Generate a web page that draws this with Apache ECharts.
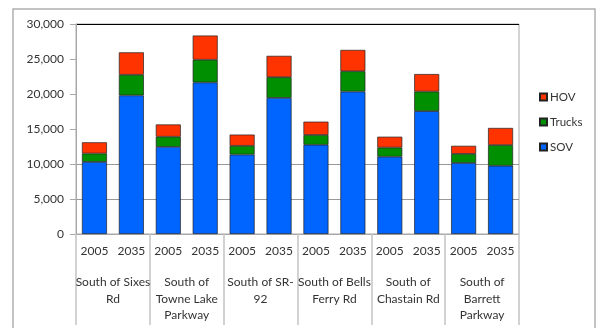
<!DOCTYPE html>
<html>
<head>
<meta charset="utf-8">
<script src="https://cdn.jsdelivr.net/npm/echarts@6/dist/echarts.min.js"></script>
<style>
  html, body { margin: 0; padding: 0; background: #fff; }
  #trafficChart { width: 597px; height: 328px; }
</style>
</head>
<body>
<div id="trafficChart"></div>
<script>
var years = ['2005', '2035', '2005', '2035', '2005', '2035', '2005', '2035', '2005', '2035', '2005', '2035'];
var locations = [
    'South of Sixes\nRd',
    'South of\nTowne Lake\nParkway',
    'South of SR-\n92',
    'South of Bells\nFerry Rd',
    'South of\nChastain Rd',
    'South of\nBarrett\nParkway'
];
var sov = [10300, 19800, 12450, 21650, 11350, 19450, 12750, 20350, 11050, 17550, 10150, 9750];
var trucks = [1200, 2950, 1450, 3250, 1250, 2950, 1400, 2900, 1300, 2800, 1300, 2950];
var hov = [1600, 3200, 1750, 3450, 1600, 3050, 1900, 3050, 1550, 2500, 1150, 2450];

var chartDom = document.getElementById('trafficChart');
var myChart = echarts.init(chartDom, null, { renderer: 'canvas' });
var fontName = 'Lato, "Liberation Sans", sans-serif';

function barSeries(name, data, color) {
    return {
        name: name,
        type: 'bar',
        stack: 'total',
        barWidth: 25,
        data: data,
        itemStyle: {
            color: color,
            borderColor: '#222',
            borderWidth: 0.7
        }
    };
}

var option = {
    backgroundColor: '#fff',
    animation: false,
    textStyle: { fontFamily: fontName },
    graphic: [{
        type: 'rect',
        shape: { x: 13, y: 9, width: 582, height: 330 },
        style: { fill: 'none', stroke: '#b0b0b0', lineWidth: 1.5 },
        silent: true
    }],
    grid: {
        left: 76,
        right: 78,
        top: 24,
        bottom: 94,
        show: true,
        borderColor: '#a8a8a8',
        borderWidth: 1
    },
    legend: {
        orient: 'vertical',
        left: 534,
        top: 86,
        itemWidth: 7,
        itemHeight: 7,
        itemGap: 13,
        icon: 'rect',
        data: ['HOV', 'Trucks', 'SOV'],
        textStyle: { fontSize: 11.5, color: '#333', fontFamily: fontName, padding: [0, 0, 0, -2] }
    },
    xAxis: [
        {
            type: 'category',
            data: years,
            position: 'bottom',
            axisLine: { show: true, lineStyle: { color: '#a8a8a8' } },
            axisTick: { show: false },
            axisLabel: { margin: 11, fontSize: 12, color: '#333', interval: 0 }
        },
        {
            type: 'category',
            data: locations,
            position: 'bottom',
            axisLine: { show: false },
            axisTick: { show: true, length: 91, lineStyle: { color: '#c4c4c4', width: 1.5 } },
            axisLabel: { margin: 40, fontSize: 12, color: '#333', lineHeight: 16.5, interval: 0, verticalAlign: 'top' }
        }
    ],
    yAxis: {
        type: 'value',
        min: 0,
        max: 30000,
        interval: 5000,
        axisLine: { show: true, lineStyle: { color: '#a8a8a8' } },
        axisTick: { show: true, length: 6, lineStyle: { color: '#a8a8a8' } },
        axisLabel: {
            margin: 12,
            fontSize: 12,
            color: '#333',
            formatter: function (v) { return v.toLocaleString('en-US'); }
        },
        splitLine: {
            show: true,
            lineStyle: {
                // only 5,000 / 10,000 gridlines show in the source, plus a black top edge
                color: ['transparent', '#999', '#999', 'transparent', 'transparent', 'transparent', '#000'],
                width: 1
            }
        }
    },
    series: [
        barSeries('SOV', sov, '#0064ff'),
        barSeries('Trucks', trucks, '#008f00'),
        barSeries('HOV', hov, '#ff3300')
    ]
};

option && myChart.setOption(option);
</script>
</body>
</html>
